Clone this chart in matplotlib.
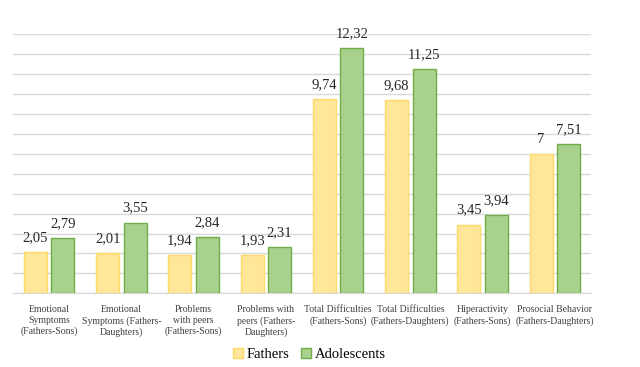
import matplotlib.pyplot as plt
import numpy as np

plt.rcParams["font.family"] = ["Liberation Serif", "DejaVu Serif"]

categories = [
    "Emotional\nSymptoms\n(Fathers-Sons)",
    "Emotional\nSymptoms (Fathers-\nDaughters)",
    "Problems\nwith peers\n(Fathers-Sons)",
    "Problems with\npeers (Fathers-\nDaughters)",
    "Total Difficulties\n(Fathers-Sons)",
    "Total Difficulties\n(Fathers-Daughters)",
    "Hiperactivity\n(Fathers-Sons)",
    "Prosocial Behavior\n(Fathers-Daughters)",
]
fathers = [2.05, 2.01, 1.94, 1.93, 9.74, 9.68, 3.45, 7.0]
adolescents = [2.79, 3.55, 2.84, 2.31, 12.32, 11.25, 3.94, 7.51]


def fmt(v):
    return f"{v:g}".replace(".", ",")


fig = plt.figure(figsize=(6.4, 3.67), dpi=100)
ax = fig.add_axes([0.0203, 0.2008, 0.9031, 0.7057])

x = np.arange(len(categories))
w = 0.32
off = 0.19
b1 = ax.bar(x - off, fathers, w, color="#FFE699", edgecolor="#FFD966",
            linewidth=1.0, label="Fathers", zorder=3)
b2 = ax.bar(x + off, adolescents, w, color="#A9D18E", edgecolor="#70AD47",
            linewidth=1.0, label="Adolescents", zorder=3)

for bars, vals in ((b1, fathers), (b2, adolescents)):
    for r, v in zip(bars, vals):
        ax.text(r.get_x() + r.get_width() / 2, v + 0.4, fmt(v),
                ha="center", va="bottom", fontsize=10.5, color="#262626")

ax.set_xlim(-0.5, len(categories) - 0.5)
ax.set_ylim(0, 13)
ax.set_yticks(np.arange(0, 14, 1))
ax.yaxis.grid(True, color="#D9D9D9", linewidth=1.0, zorder=0)
ax.tick_params(axis="y", left=False, labelleft=False)
ax.tick_params(axis="x", bottom=False, labelsize=7, labelcolor="#404040", pad=5)
ax.set_xticks(x)
ax.set_xticklabels(categories, linespacing=1.25)
for s in ("top", "right", "left"):
    ax.spines[s].set_visible(False)
ax.spines["bottom"].set_color("#D9D9D9")

fig.legend(handles=[b1, b2], loc="lower center", bbox_to_anchor=(0.483, -0.02),
           ncol=2, frameon=False, fontsize=10.5, handlelength=0.7, handleheight=0.7,
           handletextpad=0.25, columnspacing=0.8)

fig.savefig("out.png", dpi=100)
